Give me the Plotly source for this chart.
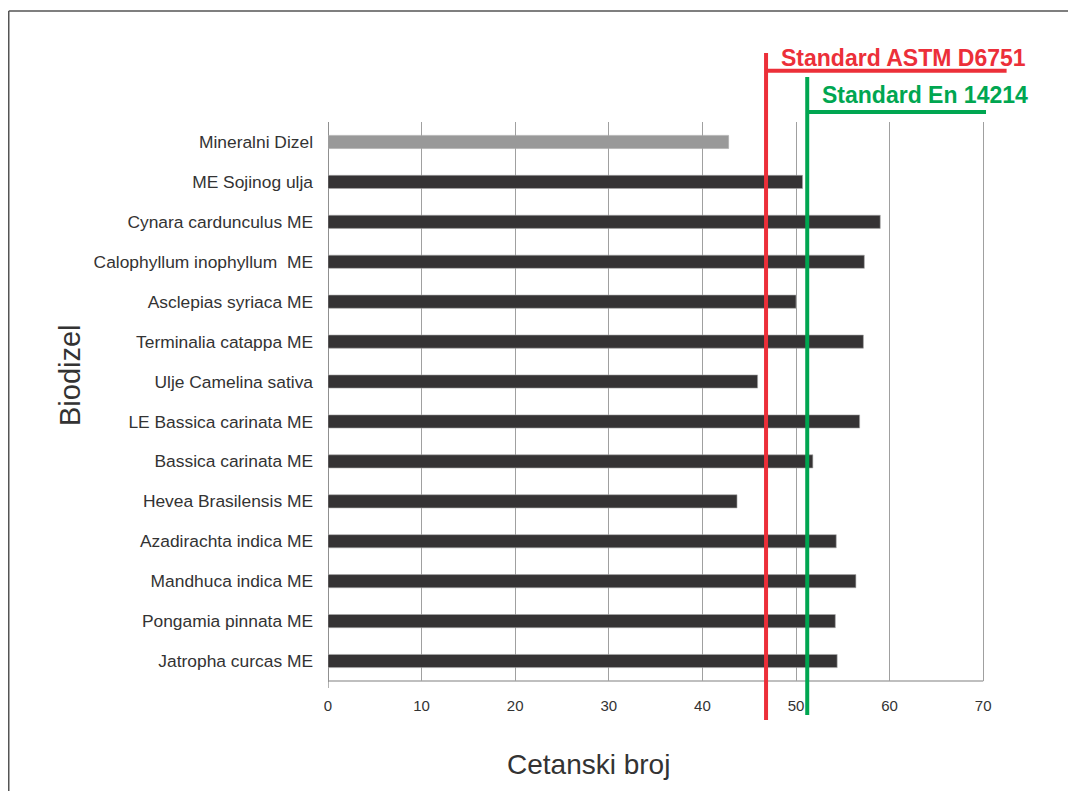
import plotly.graph_objects as go

# ---- data ----
categories = [
    "Mineralni Dizel", "ME Sojinog ulja", "Cynara cardunculus ME",
    "Calophyllum inophyllum  ME", "Asclepias syriaca ME", "Terminalia catappa ME",
    "Ulje Camelina sativa", "LE Bassica carinata ME", "Bassica carinata ME",
    "Hevea Brasilensis ME", "Azadirachta indica ME", "Mandhuca indica ME",
    "Pongamia pinnata ME", "Jatropha curcas ME",
]
cetane = [42.8, 50.7, 59.0, 57.3, 50.0, 57.2, 45.9, 56.8, 51.8, 43.7, 54.3, 56.4, 54.2, 54.4]
standard_names = ["Standard ASTM D6751", "Standard En 14214"]
standard_values = [46.8, 51.2]
x_ticks = [0, 10, 20, 30, 40, 50, 60, 70]

# ---- style ----
OFF = 8  # page body margin
W, H = 1076 - OFF, 791 - OFF
L, R, T, B = 328 - OFF, 46, 122 - OFF, 110
XMAX = 75.0
pw, ph = W - L - R, H - T - B

def py(p):  # window pixel y -> paper
    return (H - B - (p - OFF)) / ph

def pxp(p):  # window pixel x -> paper
    return ((p - OFF) - L) / pw

FONT = "Liberation Sans, Arial, sans-serif"
bar_colors = ["#999999"] + ["#353334"] * (len(categories) - 1)
std_colors = ["#EC2F39", "#00A651"]
std_line_top = [53, 77]
std_line_bot = [720, 715]
std_bracket_y = [70.7, 112]
std_bracket_end = [72.5, 70.3]
std_text_y = [58, 95]

fig = go.Figure()
fig.add_trace(go.Bar(
    y=categories, x=cetane, orientation="h",
    marker=dict(color=bar_colors, line=dict(width=0.6, color="#aaaaaa")),
    width=0.33, showlegend=False, hoverinfo="x+y",
))

shapes = []
annotations = []
for name, val, col, t, b, by, be, ty in zip(standard_names, standard_values, std_colors,
                                            std_line_top, std_line_bot, std_bracket_y,
                                            std_bracket_end, std_text_y):
    shapes.append(dict(type="line", xref="x", yref="paper", x0=val, x1=val,
                       y0=py(b), y1=py(t), line=dict(color=col, width=4), layer="above"))
    shapes.append(dict(type="line", xref="x", yref="paper", x0=val, x1=be,
                       y0=py(by), y1=py(by), line=dict(color=col, width=4), layer="above"))
    annotations.append(dict(text=name, xref="x", yref="paper", x=val + 1.35, y=py(ty),
                            xanchor="left", yanchor="middle", showarrow=False,
                            font=dict(family=FONT, size=23, color=col, weight="bold")))

# bottom axis line from 0 to 70 and tick at 0
shapes.append(dict(type="line", xref="x", yref="paper", x0=0, x1=70, y0=0, y1=0,
                   line=dict(color="#aaaaaa", width=1.5), layer="below"))
shapes.append(dict(type="line", xref="x", yref="paper", x0=0, x1=0, y0=0, y1=py(688),
                   line=dict(color="#666666", width=1), layer="below"))
# outer frame
shapes.append(dict(type="line", xref="paper", yref="paper", x0=pxp(8.75), x1=pxp(1076),
                   y0=py(11), y1=py(11), line=dict(color="#555555", width=1.5)))
shapes.append(dict(type="line", xref="paper", yref="paper", x0=pxp(8.75), x1=pxp(8.75),
                   y0=py(11), y1=py(795), line=dict(color="#555555", width=1.5)))

annotations.append(dict(text="Cetanski broj", xref="paper", yref="paper",
                        x=pxp(588), y=py(764), xanchor="center", yanchor="middle",
                        showarrow=False, font=dict(family=FONT, size=28, color="#333333")))
annotations.append(dict(text="Biodizel", xref="paper", yref="paper",
                        x=pxp(70), y=py(375), xanchor="center", yanchor="middle",
                        textangle=-90, showarrow=False,
                        font=dict(family=FONT, size=29, color="#333333")))

fig.update_layout(
    width=W, height=H,
    margin=dict(l=L, r=R, t=T, b=B, pad=0),
    paper_bgcolor="white", plot_bgcolor="white",
    shapes=shapes, annotations=annotations,
    bargap=0.67,
    xaxis=dict(range=[0, XMAX], tickvals=x_ticks, ticktext=[str(v) for v in x_ticks],
               showgrid=True, gridcolor="#a0a0a0", gridwidth=1.3,
               zeroline=True, zerolinecolor="#909090", zerolinewidth=1.3,
               showline=False, ticks="", ticklabelstandoff=14,
               tickfont=dict(family=FONT, size=15, color="#333333")),
    yaxis=dict(categoryorder="array", categoryarray=categories, autorange="reversed",
               showgrid=False, zeroline=False, showline=False, ticks="",
               ticklabelstandoff=14,
               tickfont=dict(family=FONT, size=17.4, color="#333333")),
)

fig.write_html("out.html")
